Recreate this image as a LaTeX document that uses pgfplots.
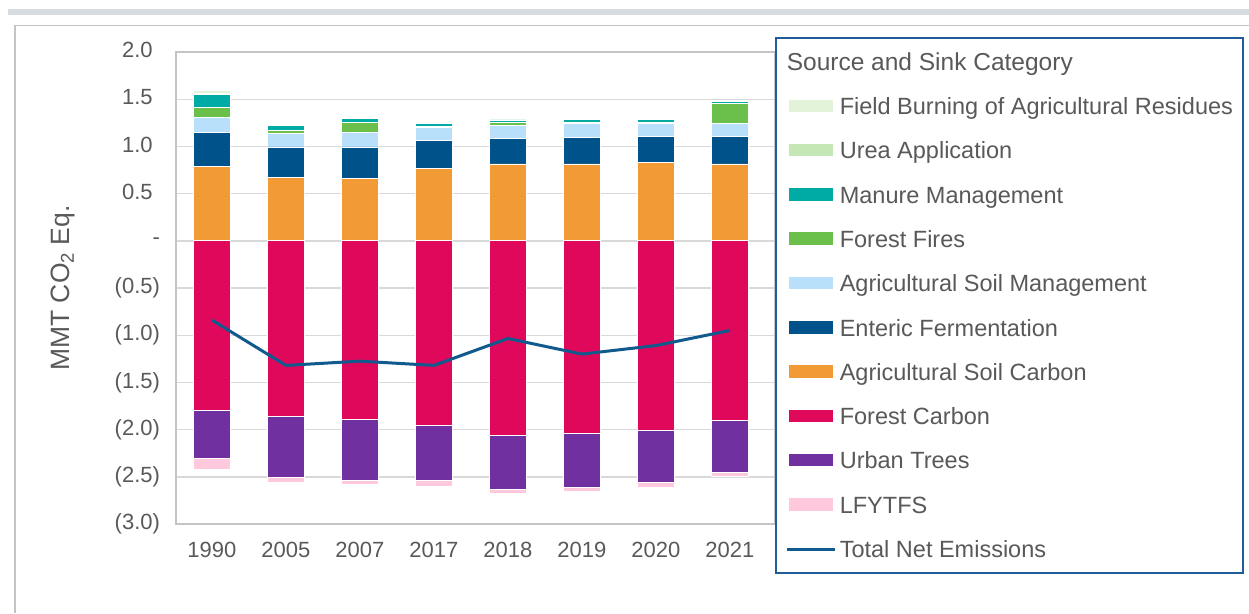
\documentclass[border=0pt]{standalone}
\usepackage{pgfplots}
\pgfplotsset{compat=1.18}
\usepackage{pgfplotstable}
\usepackage{fontspec}
\setmainfont{Liberation Sans}
\definecolor{fbcol}{HTML}{E2F3DA}
\definecolor{ureacol}{HTML}{C5E6B5}
\definecolor{mmcol}{HTML}{00ABA6}
\definecolor{ffcol}{HTML}{6BBF4B}
\definecolor{asmcol}{HTML}{B9E0FB}
\definecolor{efcol}{HTML}{00528A}
\definecolor{asccol}{HTML}{F29A35}
\definecolor{fccol}{HTML}{E0085A}
\definecolor{utcol}{HTML}{7030A0}
\definecolor{lfcol}{HTML}{FFC8DC}
\definecolor{linecol}{HTML}{115A8E}
\definecolor{legblue}{HTML}{1F5C99}
\definecolor{txtgray}{HTML}{595959}
\definecolor{gridgray}{HTML}{D9D9D9}
\definecolor{axgray}{HTML}{C4C4C4}
\definecolor{bandgray}{HTML}{D6DCE0}

% negative (sink) stack
\pgfplotstableread{
x FC UT LF
0 -1.80 -0.50 -0.12
1 -1.86 -0.65 -0.05
2 -1.89 -0.65 -0.04
3 -1.95 -0.59 -0.06
4 -2.06 -0.57 -0.05
5 -2.04 -0.57 -0.04
6 -2.01 -0.55 -0.05
7 -1.90 -0.55 -0.05
}\neg
% positive (source) stack
\pgfplotstableread{
x ASC EF ASM FF MM UA FB
0 0.79 0.355 0.165 0.10 0.14 0.015 0.025
1 0.675 0.32 0.14 0.035 0.053 0.012 0.008
2 0.66 0.335 0.155 0.105 0.043 0.006 0.004
3 0.765 0.30 0.14 0.01 0.03 0.004 0.003
4 0.815 0.265 0.14 0.035 0.025 0.005 0.003
5 0.815 0.28 0.15 0.015 0.022 0.005 0.003
6 0.83 0.275 0.14 0.015 0.025 0.004 0.003
7 0.815 0.29 0.14 0.21 0.017 0.005 0.003
}\pos
% total net emissions
\pgfplotstableread{
x net
0 -0.84
1 -1.32
2 -1.275
3 -1.32
4 -1.035
5 -1.20
6 -1.11
7 -0.95
}\net

\pgfplotsset{
  seg/.style={fill=#1, draw=white, line width=0.7pt},
  swatch/.style={legend image code/.code={\path[fill=#1, draw=none] (0pt,-6pt) rectangle (44pt,6.5pt);}},
  base/.style={at={(176pt,89pt)}, anchor=south west, scale only axis,
    width=599pt, height=472pt, xmin=-0.486, xmax=7.61, ymin=-3, ymax=2},
}

\begin{document}
\begin{tikzpicture}
\useasboundingbox (0pt,0pt) rectangle (1249pt,613pt);
\fill[bandgray] (8pt,598pt) rectangle (1249pt,604pt);
\draw[axgray, line width=1.5pt] (15pt,0pt) -- (15pt,587.5pt) -- (1249pt,587.5pt);

\begin{axis}[
  base,
  ybar stacked, bar width=37pt,
  xtick={0,1,2,3,4,5,6,7},
  xticklabels={1990,2005,2007,2017,2018,2019,2020,2021},
  ytick={-3,-2.5,-2,-1.5,-1,-0.5,0,0.5,1,1.5,2},
  yticklabels={(3.0),(2.5),(2.0),(1.5),(1.0),(0.5),{-\hspace{12pt}},{0.5\phantom{)}},{1.0\phantom{)}},{1.5\phantom{)}},{2.0\phantom{)}}},
  major tick length=0pt,
  ymajorgrids, grid style={gridgray, line width=1.4pt},
  axis line style={axgray, line width=1.5pt},
  tick label style={font=\fontsize{22}{26}\selectfont, text=txtgray},
  xticklabel style={yshift=-15pt},
  yticklabel style={xshift=-12.5pt},
  ylabel={MMT CO\textsubscript{2} Eq.},
  every axis y label/.style={at={(axis description cs:-0.1886,0.5)}, rotate=90, anchor=center, font=\fontsize{26.5}{30}\selectfont, text=txtgray},
  /pgf/number format/assume math mode=true,
]
\addplot[seg=fccol] table[x=x,y=FC]{\neg};
\addplot[seg=utcol] table[x=x,y=UT]{\neg};
\addplot[seg=lfcol] table[x=x,y=LF]{\neg};
\end{axis}

\begin{axis}[base, hide axis, ybar stacked, bar width=37pt]
\addplot[seg=asccol] table[x=x,y=ASC]{\pos};
\addplot[seg=efcol] table[x=x,y=EF]{\pos};
\addplot[seg=asmcol] table[x=x,y=ASM]{\pos};
\addplot[seg=ffcol] table[x=x,y=FF]{\pos};
\addplot[seg=mmcol] table[x=x,y=MM]{\pos};
\addplot[seg=ureacol] table[x=x,y=UA]{\pos};
\addplot[seg=fbcol] table[x=x,y=FB]{\pos};
\end{axis}

\begin{axis}[
  base, hide axis,
  legend cell align=left,
  legend style={at={(1.0,1.0318)}, anchor=north west, draw=legblue, line width=1.6pt, fill=white,
    font=\fontsize{23.5}{28}\selectfont, text=txtgray,
    inner xsep=10pt, inner ysep=12pt, row sep=20.3pt, column sep=3pt,
    nodes={inner sep=0pt, text height=20.5pt, text depth=3.5pt}},
]
\addplot[linecol, line width=3pt, forget plot] table[x=x,y=net]{\net};
\addlegendimage{empty legend}\addlegendentry{\fontsize{24.5}{28}\selectfont\hspace{-53pt}Source and Sink Category}
\addlegendimage{swatch=fbcol}\addlegendentry{Field Burning of Agricultural Residues}
\addlegendimage{swatch=ureacol}\addlegendentry{Urea Application}
\addlegendimage{swatch=mmcol}\addlegendentry{Manure Management}
\addlegendimage{swatch=ffcol}\addlegendentry{Forest Fires}
\addlegendimage{swatch=asmcol}\addlegendentry{Agricultural Soil Management}
\addlegendimage{swatch=efcol}\addlegendentry{Enteric Fermentation}
\addlegendimage{swatch=asccol}\addlegendentry{Agricultural Soil Carbon}
\addlegendimage{swatch=fccol}\addlegendentry{Forest Carbon}
\addlegendimage{swatch=utcol}\addlegendentry{Urban Trees}
\addlegendimage{swatch=lfcol}\addlegendentry{LFYTFS}
\addlegendimage{legend image code/.code={\draw[linecol, line width=3pt] (-2pt,0pt) -- (46pt,0pt);}}\addlegendentry{Total Net Emissions}
\end{axis}
\end{tikzpicture}
\end{document}
